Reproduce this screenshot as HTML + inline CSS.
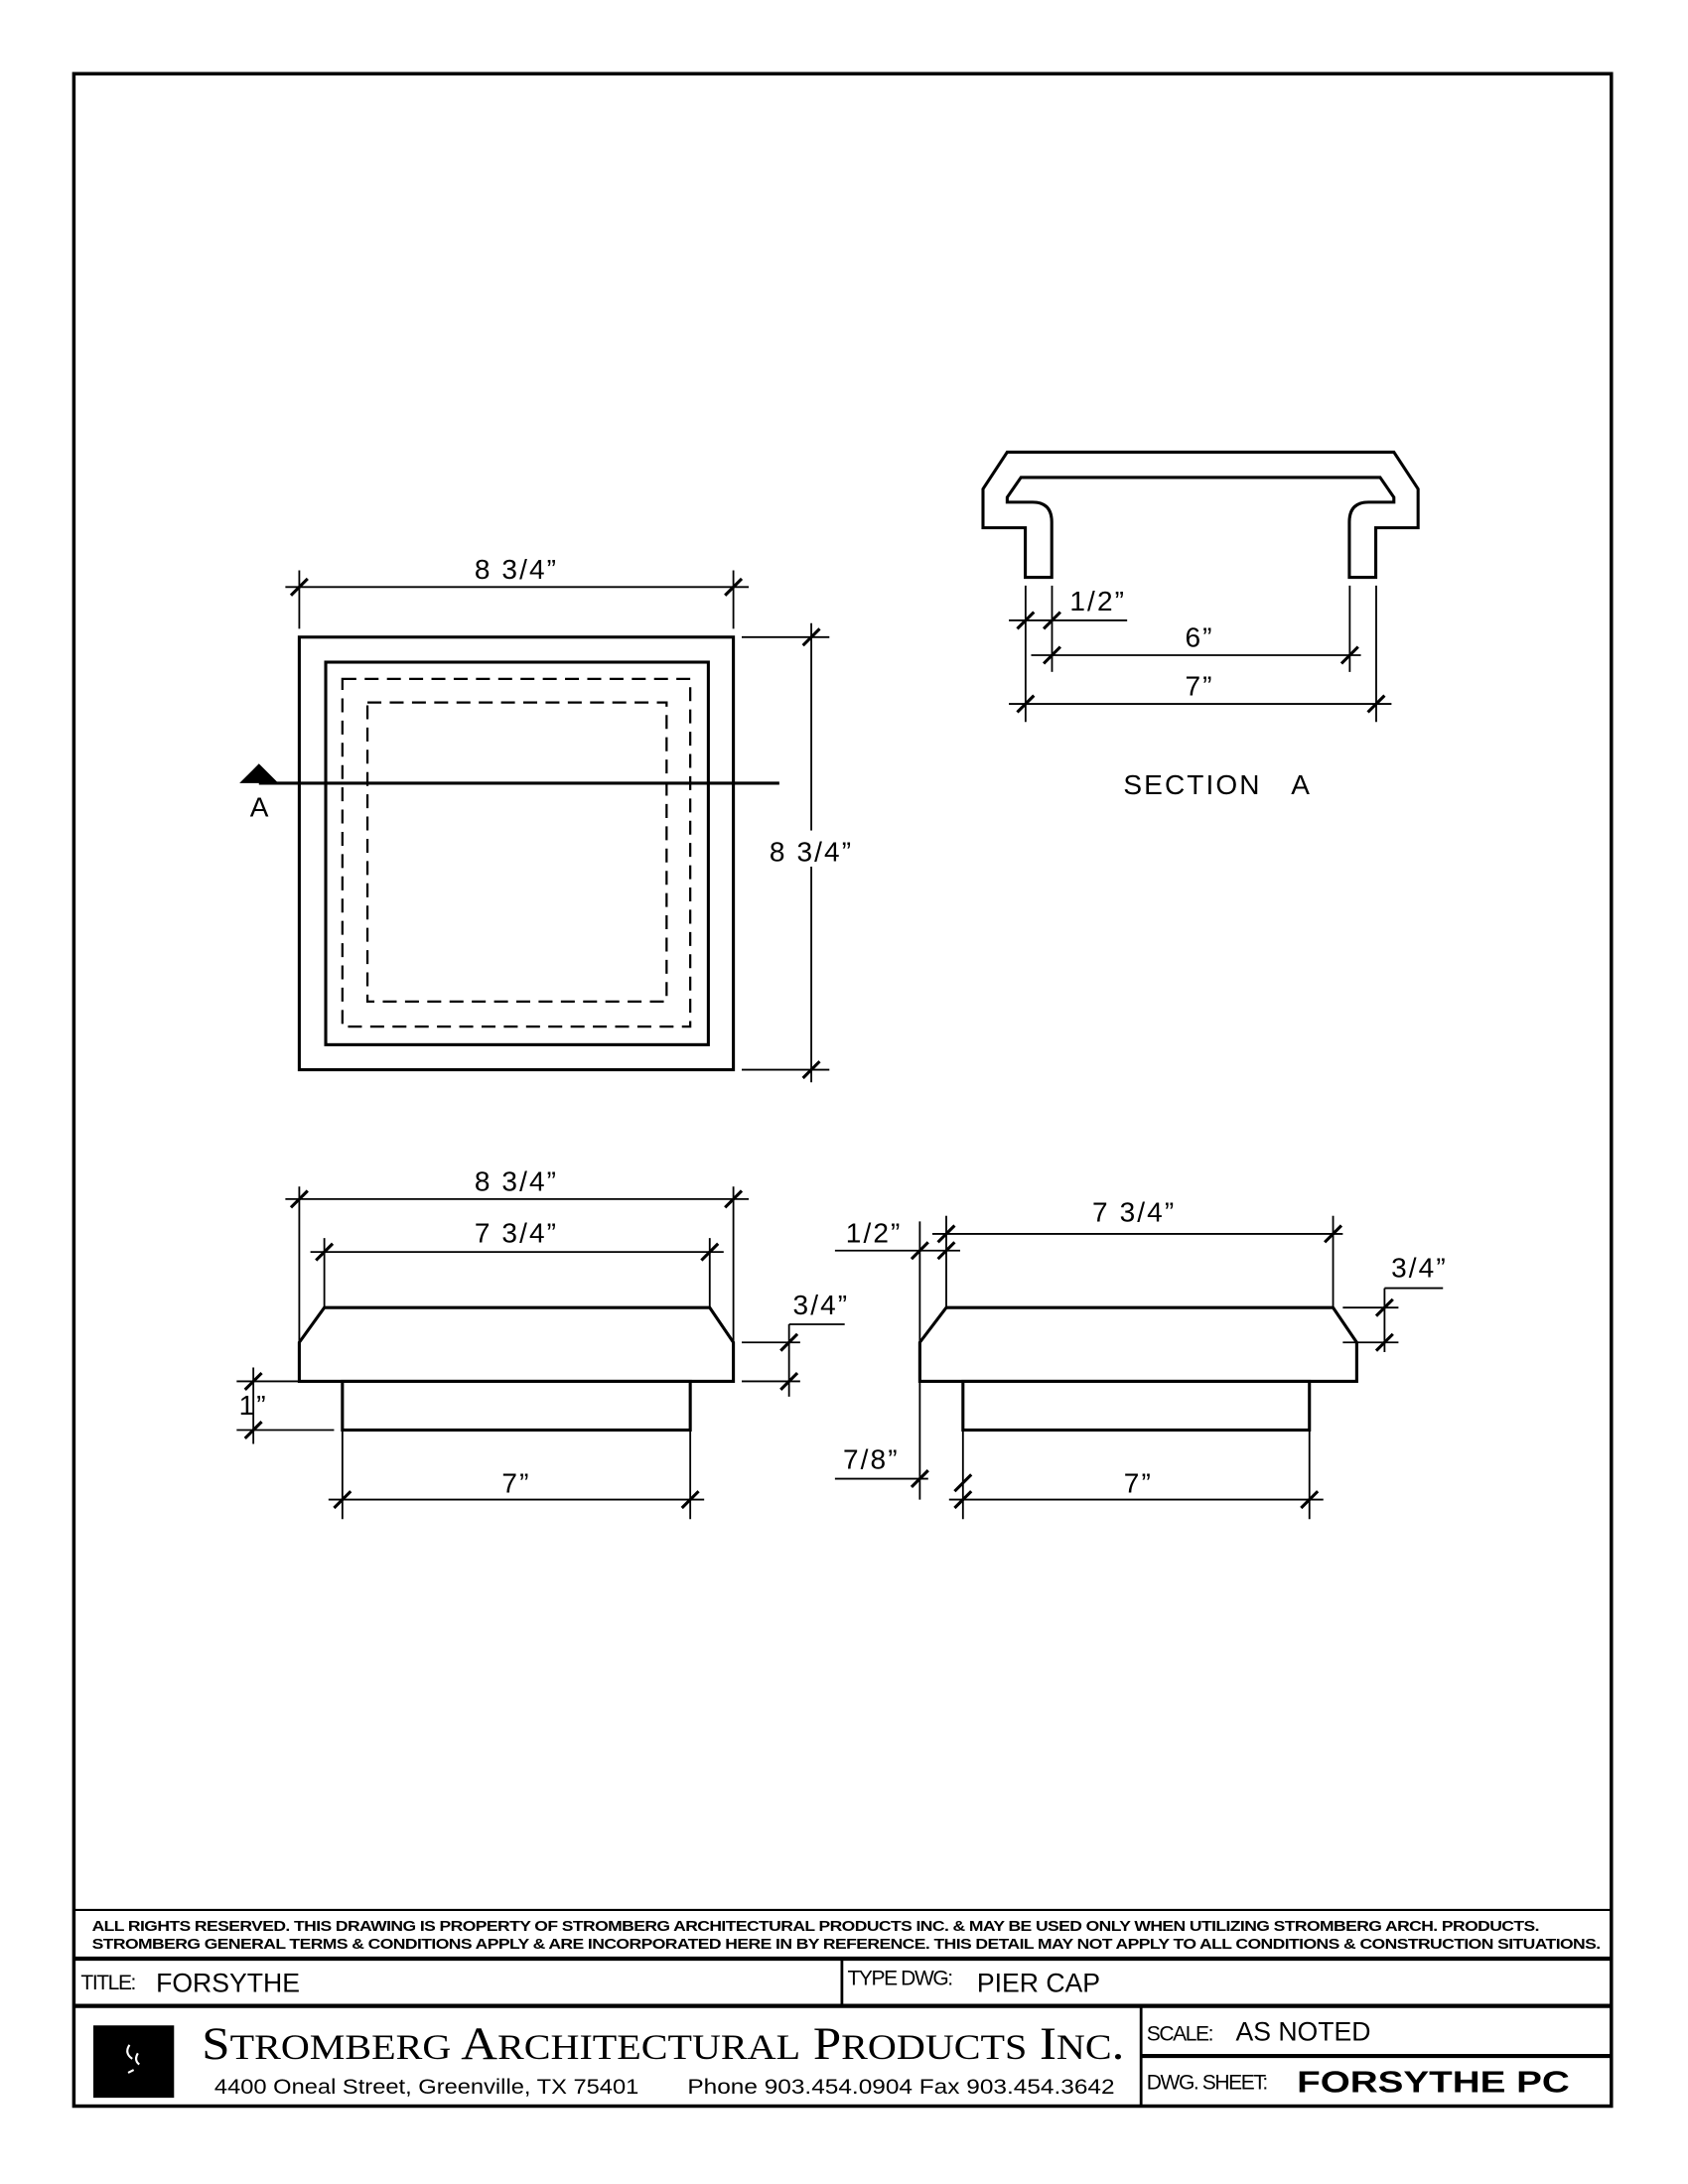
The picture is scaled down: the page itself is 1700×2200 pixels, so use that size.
<!DOCTYPE html>
<html><head><meta charset="utf-8"><style>
html,body{margin:0;padding:0;background:#fff}
svg{display:block}
text{font-family:"Liberation Sans",sans-serif;fill:#000}
</style></head><body>
<svg width="1700" height="2200" viewBox="0 0 1213 1570" xmlns="http://www.w3.org/2000/svg">
<g fill="none" stroke="#000" stroke-width="2.2">
<rect x="53" y="53" width="1105" height="1461" stroke-width="2.5"/>
<rect x="215" y="458" width="312" height="311"/>
<rect x="234" y="476" width="275" height="275"/>
<rect x="246" y="488" width="250" height="250" stroke-dasharray="10,6" stroke-width="1.6"/>
<rect x="264" y="505" width="215" height="215" stroke-dasharray="10,6" stroke-width="1.6"/>
<line x1="186" y1="563" x2="560" y2="563"/>
</g>
<polygon points="172,563 200,563 186,549" fill="#000"/>
<g fill="none" stroke="#000" stroke-width="1.3">
<line x1="205" y1="422" x2="538" y2="422"/>
<line x1="215" y1="410" x2="215" y2="452"/><line x1="527" y1="410" x2="527" y2="452"/>
<line x1="583" y1="448" x2="583" y2="778"/>
<line x1="533" y1="458" x2="596" y2="458"/><line x1="533" y1="769" x2="596" y2="769"/>
<line x1="737" y1="421" x2="737" y2="519"/><line x1="756" y1="421" x2="756" y2="483"/>
<line x1="970" y1="421" x2="970" y2="483"/><line x1="989" y1="421" x2="989" y2="519"/>
<line x1="725" y1="446" x2="810" y2="446"/>
<line x1="741" y1="471" x2="978" y2="471"/>
<line x1="725" y1="506" x2="1000" y2="506"/>
<line x1="215" y1="853" x2="215" y2="965"/><line x1="527" y1="853" x2="527" y2="965"/>
<line x1="205" y1="862" x2="538" y2="862"/>
<line x1="233" y1="890" x2="233" y2="940"/><line x1="510" y1="890" x2="510" y2="940"/>
<line x1="223" y1="900" x2="520" y2="900"/>
<line x1="246" y1="1028" x2="246" y2="1092"/><line x1="496" y1="1028" x2="496" y2="1092"/>
<line x1="236" y1="1078" x2="506" y2="1078"/>
<line x1="533" y1="965" x2="575" y2="965"/><line x1="533" y1="993" x2="575" y2="993"/>
<line x1="567" y1="952" x2="567" y2="1004"/><line x1="567" y1="952" x2="607" y2="952"/>
<line x1="170" y1="993" x2="240" y2="993"/><line x1="170" y1="1028" x2="240" y2="1028"/>
<line x1="182" y1="983" x2="182" y2="1038"/>
<line x1="661" y1="878" x2="661" y2="965"/><line x1="680" y1="874" x2="680" y2="940"/>
<line x1="958" y1="874" x2="958" y2="940"/>
<line x1="600" y1="899" x2="690" y2="899"/>
<line x1="670" y1="887" x2="965" y2="887"/>
<line x1="965" y1="940" x2="1005" y2="940"/><line x1="965" y1="965" x2="1005" y2="965"/>
<line x1="995" y1="926" x2="995" y2="972"/><line x1="995" y1="926" x2="1037" y2="926"/>
<line x1="661" y1="993" x2="661" y2="1078"/>
<line x1="692" y1="1028" x2="692" y2="1092"/><line x1="941" y1="1028" x2="941" y2="1092"/>
<line x1="600" y1="1063" x2="667" y2="1063"/>
<line x1="682" y1="1078" x2="951" y2="1078"/>
</g>
<g stroke="#000" stroke-width="2.2">
<path d="M209,428 l12,-12 M521,428 l12,-12 M577,464 l12,-12 M577,775 l12,-12
M731,452 l12,-12 M750,452 l12,-12 M750,477 l12,-12 M964,477 l12,-12 M731,512 l12,-12 M983,512 l12,-12
M209,868 l12,-12 M521,868 l12,-12 M227,906 l12,-12 M504,906 l12,-12 M240,1084 l12,-12 M490,1084 l12,-12
M561,971 l12,-12 M561,999 l12,-12 M176,999 l12,-12 M176,1034 l12,-12
M655,905 l12,-12 M674,905 l12,-12 M674,893 l12,-12 M952,893 l12,-12 M989,946 l12,-12 M989,971 l12,-12
M655,1069 l12,-12 M686,1084 l12,-12 M935,1084 l12,-12 M686,1072 l12,-12"/>
</g>
<g fill="none" stroke="#000" stroke-width="2.2">
<path d="M723.8,325 L1001.7,325 L1019.1,351.5 L1019.1,379.4 L988.7,379.4 L988.7,415 L969.7,415 L969.7,375.3 Q969.7,361 983.5,361 L1001.7,361 L1001.7,357.5 L991.8,343.2 L733.7,343.2 L723.8,357.5 L723.8,361 L742,361 Q755.8,361 755.8,375.3 L755.8,415 L736.8,415 L736.8,379.4 L706.4,379.4 L706.4,351.5 Z"/>
<path d="M233,940 L510,940 L527,965 L527,993 L215,993 L215,965 Z"/>
<rect x="246" y="993" width="250" height="35"/>
<path d="M680,940 L958,940 L975,965 L975,993 L661,993 L661,965 Z"/>
<rect x="692" y="993" width="249" height="35"/>
</g>
<rect x="545" y="597" width="76" height="26" fill="#fff"/>
<g font-size="20" style="letter-spacing:1.5px">
<text x="371" y="416" text-anchor="middle">8 3/4”</text>
<text x="583" y="619" text-anchor="middle">8 3/4”</text>
<text x="187" y="587" text-anchor="middle">A</text>
<text x="789" y="439" text-anchor="middle">1/2”</text>
<text x="862" y="465" text-anchor="middle">6”</text>
<text x="862" y="500" text-anchor="middle">7”</text>
<text x="875" y="571" text-anchor="middle">SECTION&#160;&#160;&#160;A</text>
<text x="371" y="856" text-anchor="middle">8 3/4”</text>
<text x="371" y="893" text-anchor="middle">7 3/4”</text>
<text x="371" y="1073" text-anchor="middle">7”</text>
<text x="590" y="945" text-anchor="middle">3/4”</text>
<text x="182" y="1017" text-anchor="middle">1”</text>
<text x="628" y="893" text-anchor="middle">1/2”</text>
<text x="815" y="878" text-anchor="middle">7 3/4”</text>
<text x="1020" y="918" text-anchor="middle">3/4”</text>
<text x="626" y="1056" text-anchor="middle">7/8”</text>
<text x="818" y="1073" text-anchor="middle">7”</text>
</g>
<g stroke="#000" fill="none">
<line x1="53" y1="1373" x2="1158" y2="1373" stroke-width="1.5"/>
<line x1="53" y1="1408" x2="1158" y2="1408" stroke-width="3"/>
<line x1="53" y1="1442" x2="1158" y2="1442" stroke-width="3"/>
<line x1="605" y1="1408" x2="605" y2="1442" stroke-width="2"/>
<line x1="820" y1="1442" x2="820" y2="1514" stroke-width="2"/>
<line x1="820" y1="1478" x2="1158" y2="1478" stroke-width="3"/>
</g>
<rect x="67" y="1456" width="58" height="52" fill="#000"/>
<path d="M93,1470 q-4,6 2,10 M99,1476 q-3,5 1,8 M92,1490 l4,-2" stroke="#fff" stroke-width="1.5" fill="none"/>
<g font-weight="bold" font-size="10.6" style="letter-spacing:-0.35px">
<text x="66" y="1388" textLength="1040" lengthAdjust="spacingAndGlyphs">ALL RIGHTS RESERVED. THIS DRAWING IS PROPERTY OF STROMBERG ARCHITECTURAL PRODUCTS INC. &amp; MAY BE USED ONLY WHEN UTILIZING STROMBERG ARCH. PRODUCTS.</text>
<text x="66" y="1401" textLength="1084" lengthAdjust="spacingAndGlyphs">STROMBERG GENERAL TERMS &amp; CONDITIONS APPLY &amp; ARE INCORPORATED HERE IN BY REFERENCE. THIS DETAIL MAY NOT APPLY TO ALL CONDITIONS &amp; CONSTRUCTION SITUATIONS.</text>
</g>
<text x="58" y="1430" font-size="15" style="letter-spacing:-1px">TITLE:</text>
<text x="112" y="1432" font-size="19">FORSYTHE</text>
<text x="609" y="1427" font-size="15" style="letter-spacing:-1px">TYPE DWG:</text>
<text x="702" y="1432" font-size="19">PIER CAP</text>
<text x="824" y="1467" font-size="15" style="letter-spacing:-1px">SCALE:</text>
<text x="888" y="1467" font-size="19">AS NOTED</text>
<text x="824" y="1502" font-size="15" style="letter-spacing:-1px">DWG. SHEET:</text>
<text x="932" y="1504" font-size="22" font-weight="bold" textLength="196" lengthAdjust="spacingAndGlyphs">FORSYTHE PC</text>
<text x="145" y="1480" font-size="33" textLength="663" lengthAdjust="spacingAndGlyphs" style="font-family:'Liberation Serif',serif">S<tspan font-size="26">TROMBERG</tspan> A<tspan font-size="26">RCHITECTURAL</tspan> P<tspan font-size="26">RODUCTS</tspan> I<tspan font-size="26">NC</tspan>.</text>
<text x="154" y="1505" font-size="15" textLength="305" lengthAdjust="spacingAndGlyphs">4400 Oneal Street, Greenville, TX  75401</text>
<text x="494" y="1505" font-size="15" textLength="307" lengthAdjust="spacingAndGlyphs">Phone 903.454.0904   Fax 903.454.3642</text>
</svg>
</body></html>
